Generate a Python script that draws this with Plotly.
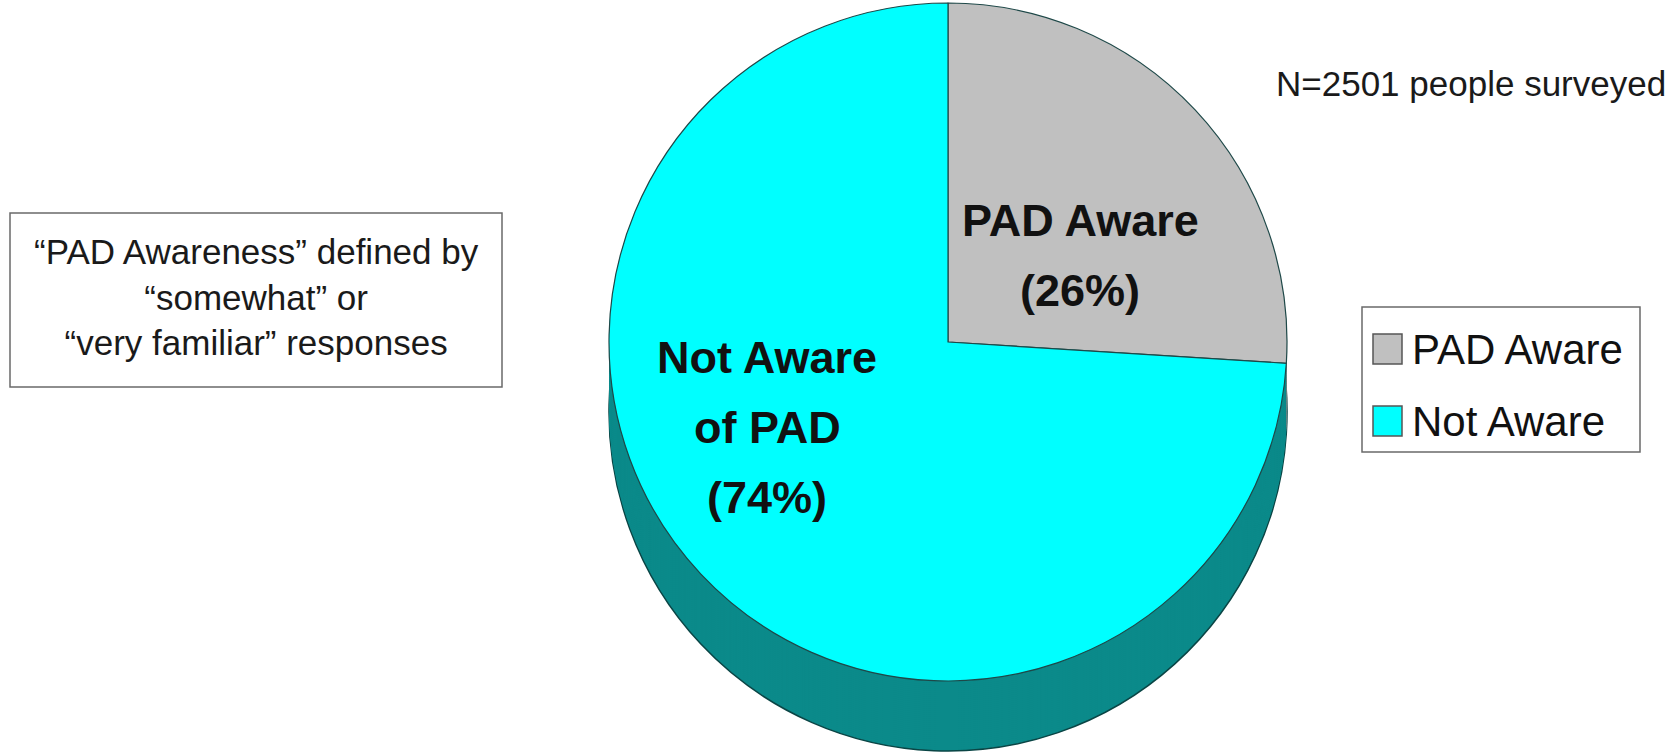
import plotly.graph_objects as go

# ---- data ----
labels = ["PAD Aware", "Not Aware"]
values = [26, 74]
top_colors = ["#C0C0C0", "#00FFFF"]
side_colors = ["#808080", "#0B8A8A"]
slice_text_aware = ["PAD Aware", "(26%)"]
slice_text_not = ["Not Aware", "of PAD", "(74%)"]
note_text = "\u201cPAD Awareness\u201d defined by<br>\u201csomewhat\u201d or<br>\u201cvery familiar\u201d responses"
sample_text = "N=2501 people surveyed"

W, H = 1678, 752
cx, cy, R = 948, 342, 339
depth = 70
step = 2

FONT = "Arial, Liberation Sans, Helvetica, sans-serif"


def px_x(x):
    return x / W


def px_y(y):
    return 1 - y / H


def domain_for(off):
    return dict(
        x=[px_x(cx - R), px_x(cx + R)],
        y=[max(0, px_y(cy + off + R)), min(1, px_y(cy + off - R))],
    )


fig = go.Figure()

# extruded side: stacked pies with the same values
offsets = list(range(depth, 0, -step))
for i, off in enumerate(offsets):
    fig.add_trace(go.Pie(
        labels=labels, values=values, sort=False, direction="clockwise", rotation=0,
        marker=dict(colors=side_colors,
                    line=dict(color="#0A4545", width=1.5 if i == 0 else 0)),
        textinfo="none", hoverinfo="skip", showlegend=False,
        domain=domain_for(off),
    ))

# top face
fig.add_trace(go.Pie(
    labels=labels, values=values, sort=False, direction="clockwise", rotation=0,
    marker=dict(colors=top_colors, line=dict(color="#1E4848", width=1.2)),
    textinfo="none", hoverinfo="label+percent", showlegend=False,
    domain=domain_for(0),
))

annotations = []
# slice labels
for txt, y in zip(slice_text_aware, [220, 290]):
    annotations.append(dict(x=px_x(1080), y=px_y(y), xref="paper", yref="paper",
                            text="<b>%s</b>" % txt, showarrow=False,
                            font=dict(family=FONT, size=45, color="#111111"),
                            xanchor="center", yanchor="middle"))
for txt, y in zip(slice_text_not, [357, 427, 497]):
    annotations.append(dict(x=px_x(767), y=px_y(y), xref="paper", yref="paper",
                            text="<b>%s</b>" % txt, showarrow=False,
                            font=dict(family=FONT, size=45, color="#111111"),
                            xanchor="center", yanchor="middle"))

# note box text
annotations.append(dict(x=px_x(256), y=px_y(297), xref="paper", yref="paper",
                        text=note_text, showarrow=False, align="center",
                        font=dict(family=FONT, size=35, color="#1a1a1a"),
                        xanchor="center", yanchor="middle"))
# sample size
annotations.append(dict(x=px_x(1668), y=px_y(84), xref="paper", yref="paper",
                        text=sample_text, showarrow=False,
                        font=dict(family=FONT, size=35, color="#1a1a1a"),
                        xanchor="right", yanchor="middle"))

shapes = [
    dict(type="rect", xref="paper", yref="paper",
         x0=px_x(10), x1=px_x(502), y0=px_y(387), y1=px_y(213),
         line=dict(color="#6a6a6a", width=1.5), fillcolor="rgba(0,0,0,0)", layer="below"),
    dict(type="rect", xref="paper", yref="paper",
         x0=px_x(1362), x1=px_x(1640), y0=px_y(452), y1=px_y(307),
         line=dict(color="#6a6a6a", width=1.5), fillcolor="rgba(0,0,0,0)", layer="below"),
]

# manual legend (large swatches)
for lab, col, yc in zip(labels, top_colors, [349, 421]):
    shapes.append(dict(type="rect", xref="paper", yref="paper",
                       x0=px_x(1373), x1=px_x(1402), y0=px_y(yc + 15), y1=px_y(yc - 15),
                       line=dict(color="#555555", width=1.5), fillcolor=col))
    annotations.append(dict(x=px_x(1410), y=px_y(yc), xref="paper", yref="paper",
                            text=lab, showarrow=False,
                            font=dict(family=FONT, size=42, color="#111111"),
                            xanchor="left", yanchor="middle"))

fig.update_layout(
    width=W, height=H, autosize=False,
    margin=dict(l=0, r=0, t=0, b=0),
    paper_bgcolor="white", plot_bgcolor="white",
    annotations=annotations, shapes=shapes,
    showlegend=False,
)

fig.write_html(
    "out.html",
    config={"displayModeBar": False},
    post_script="document.body.style.margin='0';document.body.style.overflow='hidden';",
)
